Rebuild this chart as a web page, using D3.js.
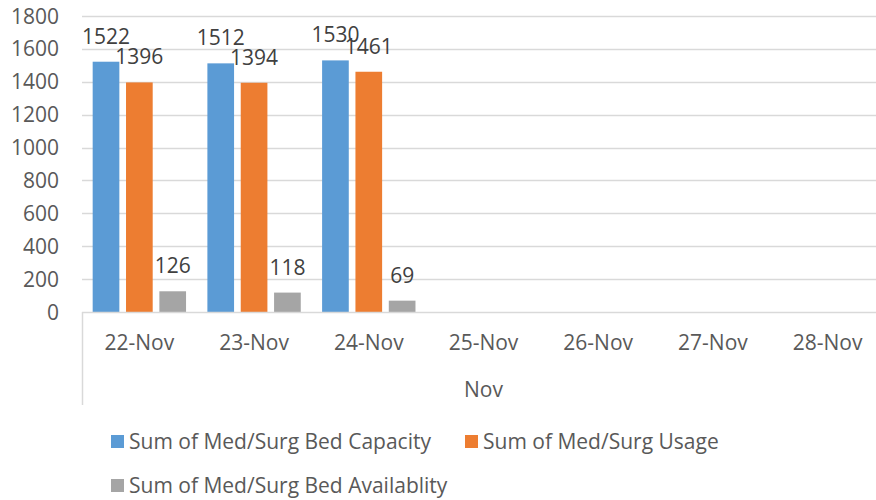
<!DOCTYPE html>
<html lang="en">
<head>
  <meta charset="utf-8">
  <script src="https://d3js.org/d3.v7.min.js"></script>
  <style>
    body {
      margin: 0;
      background: #fff;
      font-family: "Open Sans", sans-serif;
    }
  </style>
  <title>Med/Surg Beds</title>
</head>
<body>
<div id="vis"></div>
<script>
// chart data
const days = ['22-Nov', '23-Nov', '24-Nov', '25-Nov', '26-Nov', '27-Nov', '28-Nov'];
const capacity = [1522, 1512, 1530, null, null, null, null];
const usage = [1396, 1394, 1461, null, null, null, null];
const availability = [126, 118, 69, null, null, null, null];
const yTicks = [0, 200, 400, 600, 800, 1000, 1200, 1400, 1600, 1800];
const seriesNames = ['Sum of Med/Surg Bed Capacity', 'Sum of Med/Surg Usage', 'Sum of Med/Surg Bed Availablity'];
const groupLabel = 'Nov';

const width = 876;
const height = 500;
const colours = ['#5B9BD5', '#ED7D31', '#A5A5A5'];

// plot area (runs a bit past the right edge, like the original crop)
const plotLeft = 82, plotRight = 885, plotTop = 16, plotBottom = 312;

const svg = d3.select('#vis')
  .append('svg')
  .attr('width', width)
  .attr('height', height);

const x = d3.scaleBand()
  .domain(days)
  .range([plotLeft, plotRight])
  .paddingInner(0)
  .paddingOuter(0);

const y = d3.scaleLinear()
  .domain([0, 1800])
  .range([plotBottom, plotTop]);

const series = [capacity, usage, availability];

// inner bands for the three series
const x1 = d3.scaleBand()
  .domain([0, 1, 2])
  .range([0, x.bandwidth()])
  .paddingInner(0.2)
  .paddingOuter(0.32);

// gridlines
svg.append('g')
  .selectAll('line')
  .data(yTicks.filter(d => d > 0))
  .enter()
  .append('line')
  .attr('x1', plotLeft)
  .attr('x2', plotRight)
  .attr('y1', d => Math.round(y(d)) + 0.5)
  .attr('y2', d => Math.round(y(d)) + 0.5)
  .attr('stroke', '#D9D9D9')
  .attr('stroke-width', 1.5);

// y tick labels
svg.append('g')
  .selectAll('text')
  .data(yTicks)
  .enter()
  .append('text')
  .attr('x', 59)
  .attr('y', d => y(d))
  .attr('dy', '0.36em')
  .attr('text-anchor', 'end')
  .attr('fill', '#595959')
  .style('font-size', '21px')
  .text(d => d);

// bars
const groups = svg.append('g')
  .selectAll('g')
  .data(series)
  .enter()
  .append('g')
  .attr('fill', (d, i) => colours[i]);

groups.each(function(values, si) {
  const g = d3.select(this);
  const pts = days.map((day, i) => ({ day, v: values[i] })).filter(p => p.v != null);

  g.selectAll('rect')
    .data(pts)
    .enter()
    .append('rect')
    .attr('x', p => x(p.day) + x1(si))
    .attr('width', x1.bandwidth())
    .attr('y', p => y(p.v))
    .attr('height', p => y(0) - y(p.v));

  // data labels
  g.selectAll('text')
    .data(pts)
    .enter()
    .append('text')
    .attr('x', p => x(p.day) + x1(si) + x1.bandwidth() / 2)
    .attr('y', p => y(p.v) - 18)
    .attr('text-anchor', 'middle')
    .attr('fill', '#404040')
    .style('font-size', '21px')
    .text(p => p.v);
});

// axis line and group frame
svg.append('line')
  .attr('x1', plotLeft).attr('x2', plotRight)
  .attr('y1', plotBottom + 0.5).attr('y2', plotBottom + 0.5)
  .attr('stroke', '#D9D9D9')
  .attr('stroke-width', 1.5);

svg.append('line')
  .attr('x1', plotLeft + 0.5).attr('x2', plotLeft + 0.5)
  .attr('y1', plotBottom).attr('y2', 405)
  .attr('stroke', '#D9D9D9')
  .attr('stroke-width', 1.5);

svg.append('line')
  .attr('x1', plotRight - 0.5).attr('x2', plotRight - 0.5)
  .attr('y1', plotBottom).attr('y2', 405)
  .attr('stroke', '#D9D9D9')
  .attr('stroke-width', 1.5);

// category labels
svg.append('g')
  .selectAll('text')
  .data(days)
  .enter()
  .append('text')
  .attr('x', d => x(d) + x.bandwidth() / 2)
  .attr('y', 350)
  .attr('text-anchor', 'middle')
  .attr('fill', '#595959')
  .style('font-size', '21px')
  .text(d => d);

// group label
svg.append('text')
  .attr('x', (plotLeft + plotRight) / 2)
  .attr('y', 397)
  .attr('text-anchor', 'middle')
  .attr('fill', '#595959')
  .style('font-size', '21px')
  .text(groupLabel);

// legend
const legendPos = [[111, 441], [465, 441], [111, 485]];
const legend = svg.append('g')
  .selectAll('g')
  .data(seriesNames)
  .enter()
  .append('g')
  .attr('transform', (d, i) => `translate(${legendPos[i][0]},${legendPos[i][1]})`);

legend.append('rect')
  .attr('x', 0)
  .attr('y', -6)
  .attr('width', 13)
  .attr('height', 13)
  .attr('fill', (d, i) => colours[i]);

legend.append('text')
  .attr('x', 18)
  .attr('y', 0)
  .attr('dy', '0.36em')
  .attr('fill', '#595959')
  .style('font-size', '21px')
  .text(d => d);
</script>
</body>
</html>
